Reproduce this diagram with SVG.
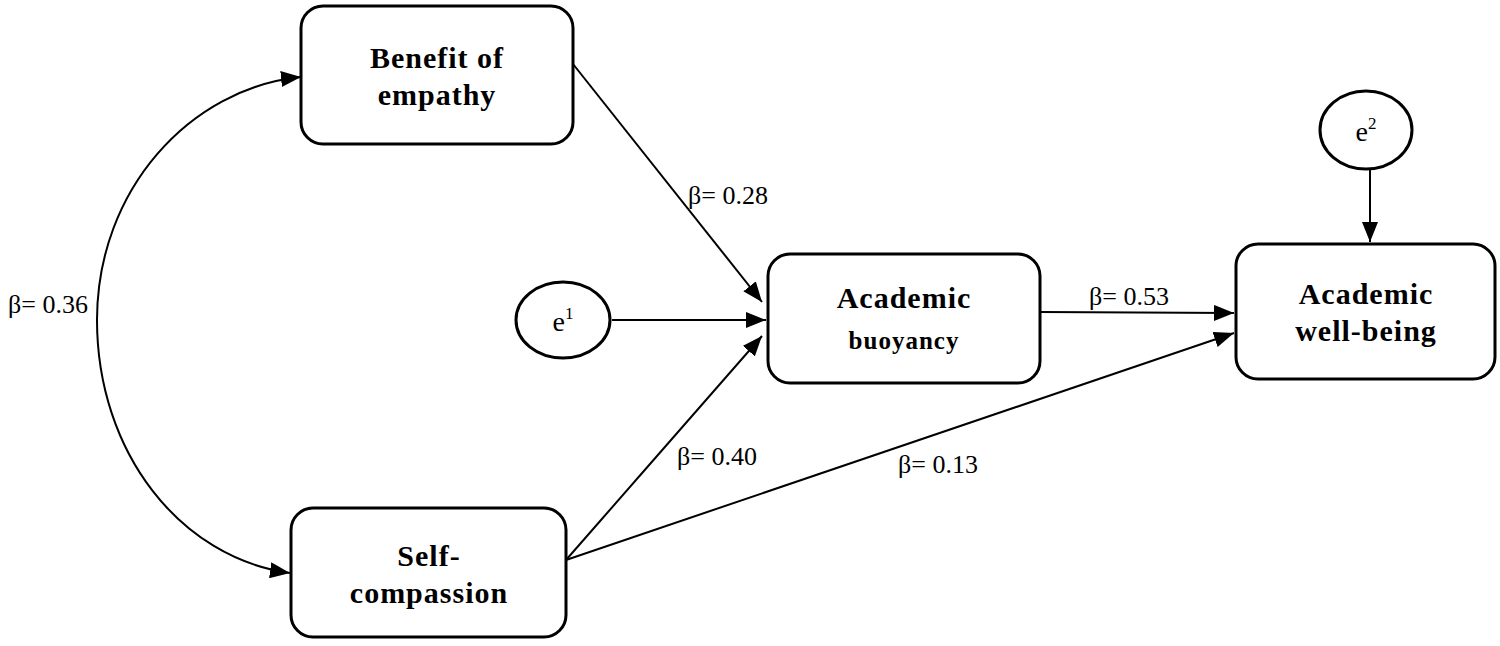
<svg xmlns="http://www.w3.org/2000/svg" width="1500" height="646" viewBox="0 0 1500 646">
<defs>
<marker id="ah" markerUnits="userSpaceOnUse" markerWidth="20" markerHeight="16" viewBox="0 0 20 16" refX="20" refY="8" orient="auto-start-reverse">
<path d="M0,0 L20,8 L0,16 Z" fill="#000"/>
</marker>
<style>
.box{fill:#fff;stroke:#000;stroke-width:3}
.ell{fill:#fff;stroke:#000;stroke-width:3}
.edge{fill:none;stroke:#000;stroke-width:2;marker-end:url(#ah)}
.both{marker-start:url(#ah)}
.nl{font-family:"Liberation Serif","Times New Roman",serif;font-weight:bold;font-size:30px;letter-spacing:1px;text-anchor:middle;fill:#000}
.nls{font-family:"Liberation Serif","Times New Roman",serif;font-weight:bold;font-size:25px;letter-spacing:1px;text-anchor:middle;fill:#000}
.el{font-family:"Liberation Serif","Times New Roman",serif;font-size:28px;text-anchor:middle;fill:#000}
.lab{font-family:"Liberation Serif","Times New Roman",serif;font-size:26px;fill:#000}
</style>
</defs>
<rect width="1500" height="646" fill="#fff"/>
<g id="connectors">
<path class="edge both" d="M301,77 C190,88 97,190 97,320 C97,452 180,558 290,573"/>
<path class="edge" d="M573,64 L762,302"/>
<path class="edge" d="M612,320 L766,320"/>
<path class="edge" d="M566,560 L762,336"/>
<path class="edge" d="M566,560 L1234,333"/>
<path class="edge" d="M1041,312 L1234,313"/>
<path class="edge" d="M1370,169 L1370,242"/>
</g>
<g id="labels">
<text class="lab" x="688" y="204">β= 0.28</text>
<text class="lab" x="1089" y="305">β= 0.53</text>
<text class="lab" x="677" y="465">β= 0.40</text>
<text class="lab" x="898" y="473">β= 0.13</text>
<text class="lab" x="8" y="313">β= 0.36</text>
</g>
<g id="benefit">
<rect class="box" x="301" y="6" width="272" height="138" rx="22"/>
<text class="nl" x="437" y="68">Benefit of</text>
<text class="nl" x="437" y="105">empathy</text>
</g>
<g id="buoyancy">
<rect class="box" x="768" y="254" width="272" height="129" rx="22"/>
<text class="nl" x="904" y="308">Academic</text>
<text class="nls" x="904" y="349">buoyancy</text>
</g>
<g id="wellbeing">
<rect class="box" x="1236" y="244" width="259" height="135" rx="22"/>
<text class="nl" x="1366" y="304">Academic</text>
<text class="nl" x="1366" y="341">well-being</text>
</g>
<g id="selfcompassion">
<rect class="box" x="291" y="508" width="275" height="129" rx="22"/>
<text class="nl" x="429" y="566">Self-</text>
<text class="nl" x="429" y="603">compassion</text>
</g>
<g id="e1">
<ellipse class="ell" cx="563" cy="320" rx="47" ry="38"/>
<text class="el" x="563" y="331">e<tspan font-size="17" dy="-12">1</tspan></text>
</g>
<g id="e2">
<ellipse class="ell" cx="1366" cy="130" rx="46" ry="39"/>
<text class="el" x="1366" y="141">e<tspan font-size="17" dy="-12">2</tspan></text>
</g>
</svg>
